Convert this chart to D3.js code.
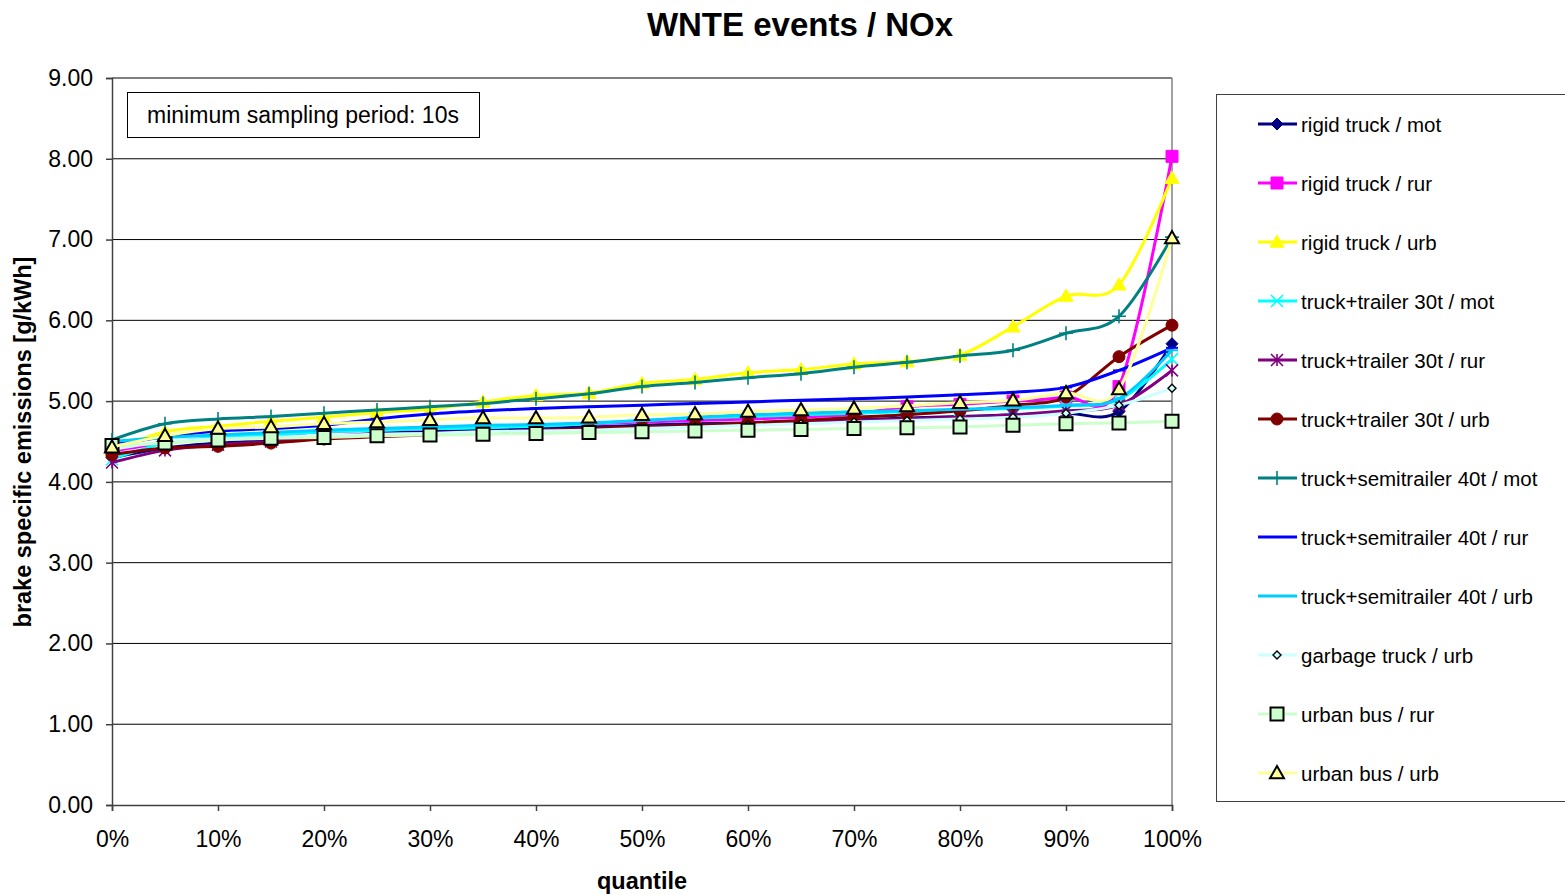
<!DOCTYPE html>
<html>
<head>
<meta charset="utf-8">
<script src="https://cdn.jsdelivr.net/npm/d3@7"></script>
<style>
  html, body { margin: 0; padding: 0; background: #fff; }
  svg { display: block; font-family: "Liberation Sans", Arial, sans-serif; }
</style>
</head>
<body>
<svg id="chart" width="1565" height="895"></svg>
<script>
// Quantile categories (0% .. 100% in 5% steps)
const quantiles = [0, 5, 10, 15, 20, 25, 30, 35, 40, 45, 50, 55, 60, 65, 70, 75, 80, 85, 90, 95, 100];
const xTickLabels = [0, 10, 20, 30, 40, 50, 60, 70, 80, 90, 100];
const yTicks = [0, 1, 2, 3, 4, 5, 6, 7, 8, 9];

// NOx brake specific emissions [g/kWh] per vehicle / route type
const rigidMot     = [4.30,4.42,4.48,4.52,4.56,4.60,4.62,4.64,4.66,4.68,4.70,4.72,4.73,4.75,4.77,4.79,4.81,4.83,4.85,4.87,5.71];
const rigidRur     = [4.38,4.48,4.54,4.58,4.62,4.64,4.66,4.68,4.70,4.72,4.74,4.76,4.78,4.80,4.84,4.93,4.96,5.00,5.05,5.18,8.03];
const rigidUrb     = [4.38,4.62,4.69,4.75,4.80,4.86,4.90,4.99,5.07,5.10,5.22,5.27,5.35,5.39,5.46,5.49,5.57,5.92,6.30,6.44,7.76];
const trailerMot   = [4.28,4.48,4.55,4.58,4.62,4.64,4.66,4.67,4.69,4.72,4.76,4.79,4.81,4.83,4.85,4.87,4.89,4.91,4.94,5.02,5.52];
const trailerRur   = [4.24,4.39,4.46,4.50,4.55,4.58,4.60,4.62,4.64,4.66,4.68,4.70,4.72,4.74,4.76,4.78,4.80,4.83,4.88,4.95,5.38];
const trailerUrb   = [4.34,4.42,4.44,4.48,4.53,4.56,4.58,4.61,4.63,4.66,4.68,4.70,4.73,4.76,4.80,4.83,4.88,4.95,5.05,5.55,5.94];
const semiMot      = [4.52,4.72,4.78,4.81,4.85,4.89,4.93,4.97,5.03,5.09,5.18,5.23,5.29,5.34,5.42,5.48,5.56,5.63,5.84,6.05,7.03];
const semiRur      = [4.46,4.56,4.63,4.66,4.70,4.78,4.84,4.88,4.91,4.93,4.95,4.97,4.99,5.01,5.03,5.05,5.08,5.11,5.17,5.38,5.66];
const semiUrb      = [4.50,4.55,4.58,4.61,4.64,4.66,4.68,4.70,4.71,4.73,4.76,4.80,4.83,4.85,4.87,4.88,4.90,4.92,4.95,5.03,5.63];
const garbageUrb   = [4.40,4.50,4.53,4.55,4.57,4.59,4.60,4.62,4.63,4.64,4.66,4.68,4.70,4.72,4.74,4.76,4.78,4.80,4.85,4.95,5.16];
const busRur       = [4.45,4.48,4.52,4.54,4.55,4.57,4.58,4.59,4.60,4.61,4.62,4.63,4.64,4.65,4.66,4.67,4.68,4.70,4.72,4.73,4.75];
const busUrb       = [4.43,4.57,4.66,4.68,4.72,4.74,4.77,4.79,4.79,4.80,4.83,4.84,4.87,4.89,4.91,4.94,4.98,5.01,5.10,5.15,7.02];

const seriesNames = [
  "rigid truck / mot", "rigid truck / rur", "rigid truck / urb",
  "truck+trailer 30t / mot", "truck+trailer 30t / rur", "truck+trailer 30t / urb",
  "truck+semitrailer 40t / mot", "truck+semitrailer 40t / rur", "truck+semitrailer 40t / urb",
  "garbage truck / urb", "urban bus / rur", "urban bus / urb"
];
const seriesValues = [rigidMot, rigidRur, rigidUrb, trailerMot, trailerRur, trailerUrb,
  semiMot, semiRur, semiUrb, garbageUrb, busRur, busUrb];

// Line colour, marker shape, marker fill / stroke
const styles = [
  { color: "#000080", marker: "diamond",  size: 6,   fill: "#000080", stroke: "#000080", sw: 1 },
  { color: "#FF00FF", marker: "square",   size: 6,   fill: "#FF00FF", stroke: "#FF00FF", sw: 1 },
  { color: "#FFFF00", marker: "triangle", size: 7,   fill: "#FFFF00", stroke: "#FFFF00", sw: 1 },
  { color: "#00FFFF", marker: "x",        size: 6,   fill: "none",    stroke: "#00FFFF", sw: 1.6 },
  { color: "#800080", marker: "star",     size: 6,   fill: "none",    stroke: "#800080", sw: 1.6 },
  { color: "#800000", marker: "circle",   size: 6,   fill: "#800000", stroke: "#800000", sw: 1 },
  { color: "#008080", marker: "plus",     size: 7,   fill: "none",    stroke: "#008080", sw: 1.6 },
  { color: "#0000FF", marker: "dash",     size: 6,   fill: "none",    stroke: "#0000FF", sw: 2 },
  { color: "#00CCFF", marker: "dash",     size: 6,   fill: "none",    stroke: "#00CCFF", sw: 2 },
  { color: "#CCFFFF", marker: "diamond",  size: 4,   fill: "#CCFFFF", stroke: "#000000", sw: 1.4 },
  { color: "#CCFFCC", marker: "square",   size: 6.5, fill: "#CCFFCC", stroke: "#000000", sw: 2 },
  { color: "#FFFF99", marker: "triangle", size: 7,   fill: "#FFFF99", stroke: "#000000", sw: 2 }
];

function markerPath(type, s) {
  switch (type) {
    case "diamond":  return `M0,${-s}L${s},0L0,${s}L${-s},0Z`;
    case "square":   return `M${-s},${-s}H${s}V${s}H${-s}Z`;
    case "triangle": return `M0,${-s}L${s},${s * 0.75}H${-s}Z`;
    case "circle":   return `M${s},0A${s},${s} 0 1,1 ${-s},0A${s},${s} 0 1,1 ${s},0Z`;
    case "x":        return `M${-s},${-s}L${s},${s}M${-s},${s}L${s},${-s}`;
    case "star":     return `M${-s},${-s}L${s},${s}M${-s},${s}L${s},${-s}M0,${-s}V${s}`;
    case "plus":     return `M${-s},0H${s}M0,${-s}V${s}`;
    case "dash":     return `M${-s},0H${s}`;
  }
}

const svg = d3.select("#chart");
const margin = { left: 112, right: 1172, top: 78, bottom: 805 };

const x = d3.scaleLinear().domain([0, 100]).range([margin.left, margin.right]);
const y = d3.scaleLinear().domain([0, 9]).range([margin.bottom, margin.top]);

// Title
svg.append("text")
  .attr("x", 800).attr("y", 36)
  .attr("text-anchor", "middle")
  .attr("font-size", 33).attr("font-weight", "bold")
  .text("WNTE events / NOx");

// Horizontal gridlines
svg.append("g").selectAll("line")
  .data(yTicks.filter(d => d > 0))
  .join("line")
  .attr("x1", margin.left).attr("x2", margin.right)
  .attr("y1", d => y(d)).attr("y2", d => y(d))
  .attr("stroke", "#000").attr("stroke-width", 1);

// Right border of plot area
svg.append("line")
  .attr("x1", margin.right).attr("x2", margin.right)
  .attr("y1", margin.top).attr("y2", margin.bottom)
  .attr("stroke", "#808080").attr("stroke-width", 1.5);

// Y axis
const yAxis = d3.axisLeft(y).tickValues(yTicks).tickFormat(d3.format(".2f")).tickSize(6).tickPadding(4);
const gy = svg.append("g").attr("transform", `translate(${margin.left},0)`).call(yAxis);
gy.select(".domain").attr("stroke", "#404040").attr("stroke-width", 1.5);
gy.selectAll(".tick line").attr("stroke", "#404040").attr("stroke-width", 1.5);
gy.selectAll("text").attr("font-size", 23).attr("fill", "#000")
  .attr("font-family", "Liberation Sans, Arial, sans-serif").attr("dx", -9);

// X axis
const xAxis = d3.axisBottom(x).tickValues(xTickLabels).tickFormat(d => d + "%").tickSize(6).tickPadding(20);
const gx = svg.append("g").attr("transform", `translate(0,${margin.bottom})`).call(xAxis);
gx.select(".domain").attr("stroke", "#404040").attr("stroke-width", 1.5);
gx.selectAll(".tick line").attr("stroke", "#404040").attr("stroke-width", 1.5);
gx.selectAll("text").attr("font-size", 23).attr("fill", "#000")
  .attr("font-family", "Liberation Sans, Arial, sans-serif");

// Axis titles
svg.append("text")
  .attr("x", 642).attr("y", 889)
  .attr("text-anchor", "middle")
  .attr("font-size", 23.5).attr("font-weight", "bold")
  .text("quantile");
svg.append("text")
  .attr("transform", `translate(31,442) rotate(-90)`)
  .attr("text-anchor", "middle")
  .attr("font-size", 23.5).attr("font-weight", "bold")
  .text("brake specific emissions [g/kWh]");

// Annotation box
svg.append("rect")
  .attr("x", 127.5).attr("y", 92.5).attr("width", 352).attr("height", 45)
  .attr("fill", "#fff").attr("stroke", "#000").attr("stroke-width", 1);
svg.append("text")
  .attr("x", 303).attr("y", 123)
  .attr("text-anchor", "middle")
  .attr("font-size", 23)
  .text("minimum sampling period: 10s");

// Series lines and markers
const line = d3.line()
  .x((d, i) => x(quantiles[i]))
  .y(d => y(d))
  .curve(d3.curveCatmullRom.alpha(0));

const plot = svg.append("g");
seriesValues.forEach((vals, k) => {
  const st = styles[k];
  const g = plot.append("g");
  g.append("path")
    .attr("d", line(vals))
    .attr("fill", "none")
    .attr("stroke", st.color)
    .attr("stroke-width", 3)
    .attr("stroke-linejoin", "round");
  g.selectAll("path.mk")
    .data(vals)
    .join("path")
    .attr("class", "mk")
    .attr("transform", (d, i) => `translate(${x(quantiles[i])},${y(d)})`)
    .attr("d", markerPath(st.marker, st.size))
    .attr("fill", st.fill)
    .attr("stroke", st.stroke)
    .attr("stroke-width", st.sw);
});

// Legend
const legend = svg.append("g");
legend.append("rect")
  .attr("x", 1216.5).attr("y", 94.5).attr("width", 400).attr("height", 707)
  .attr("fill", "#fff").attr("stroke", "#404040").attr("stroke-width", 1);

seriesNames.forEach((name, k) => {
  const st = styles[k];
  const cy = 124 + k * 59;
  const item = legend.append("g");
  item.append("line")
    .attr("x1", 1258).attr("x2", 1297).attr("y1", cy).attr("y2", cy)
    .attr("stroke", st.color).attr("stroke-width", 3);
  item.append("path")
    .attr("transform", `translate(1277,${cy})`)
    .attr("d", markerPath(st.marker, st.size))
    .attr("fill", st.fill)
    .attr("stroke", st.stroke)
    .attr("stroke-width", st.sw);
  item.append("text")
    .attr("x", 1301).attr("y", cy + 7.5)
    .attr("font-size", 20.5)
    .text(name);
});
</script>
</body>
</html>
